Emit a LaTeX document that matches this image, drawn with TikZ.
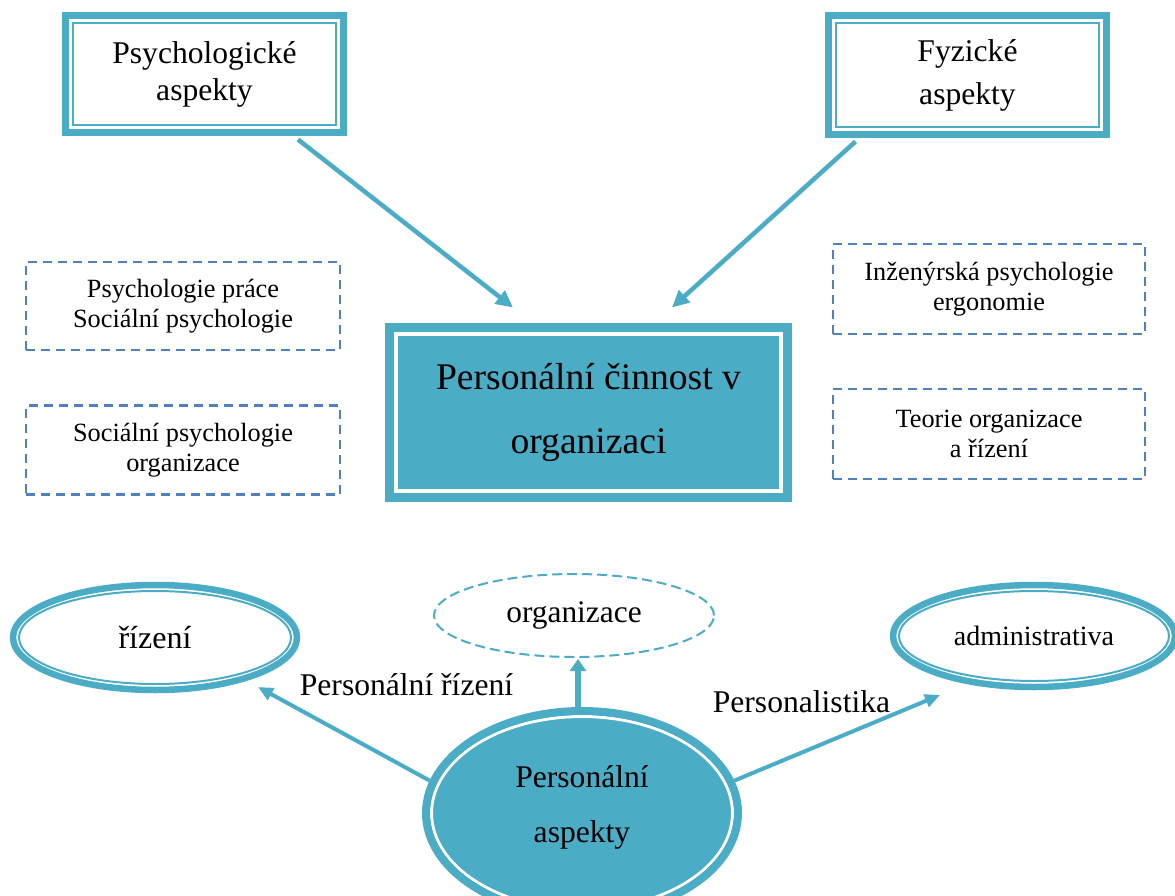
\documentclass[tikz,border=0pt]{standalone}
\usepackage{fontspec}
\setmainfont{Liberation Serif}
\usetikzlibrary{shapes.geometric,arrows.meta,calc}
\definecolor{aqua}{HTML}{4BACC6}
\definecolor{steel}{HTML}{4F81BD}
\begin{document}
\begin{tikzpicture}[x=1pt,y=-1pt,
  % white box with a thick outer frame and a thin inner line
  framebox/.style={rectangle, draw=aqua, line width=7pt, fill=white, inner sep=0pt, align=center,
    path picture={\draw[aqua, line width=2pt]
      ([xshift=7.5pt,yshift=-7.5pt]path picture bounding box.north west) rectangle
      ([xshift=-7.5pt,yshift=7.5pt]path picture bounding box.south east);}},
  % filled box with an inner white line
  corebox/.style={rectangle, draw=aqua, line width=9pt, fill=aqua, inner sep=0pt, align=center,
    path picture={\draw[white, line width=4pt]
      ([xshift=6.5pt,yshift=-6.5pt]path picture bounding box.north west) rectangle
      ([xshift=-6.5pt,yshift=6.5pt]path picture bounding box.south east);}},
  % white ellipse with a thick outer ring and a thin inner ring
  ringellipse/.style={ellipse, draw=aqua, line width=6.5pt, fill=white, inner sep=0pt, align=center,
    path picture={\draw[aqua, line width=2pt]
      let \p1=(path picture bounding box.north east), \p2=(path picture bounding box.center) in
      (\p2) ellipse [x radius={\x1-\x2-6pt}, y radius={\y1-\y2-6pt}];}},
  % filled ellipse with an inner white ring
  coreellipse/.style={ellipse, draw=aqua, line width=8pt, fill=aqua, inner sep=0pt, align=center,
    path picture={\draw[white, line width=3pt]
      let \p1=(path picture bounding box.north east), \p2=(path picture bounding box.center) in
      (\p2) ellipse [x radius={\x1-\x2-5.5pt}, y radius={\y1-\y2-5.5pt}];}},
  notebox/.style={rectangle, draw=steel, line width=2.5pt, dash pattern=on 9pt off 6pt,
    inner sep=0pt, align=center, minimum width=314pt, minimum height=88pt,
    font=\fontsize{26.3}{30}\selectfont},
  dashellipse/.style={ellipse, draw=aqua, line width=2pt, dash pattern=on 10pt off 5pt,
    inner sep=0pt, align=center},
  flow/.style={aqua, line width=4.5pt, -{Triangle[length=17pt,width=16pt]}},
  flowthin/.style={aqua, line width=4pt, -{Triangle[length=15pt,width=13pt]}},
  flowup/.style={aqua, line width=5.5pt, -{Triangle[length=12pt,width=16pt]}}
]
\path[use as bounding box, clip] (0,0) rectangle (1175,896);

% upper boxes
\node[framebox, minimum width=278pt, minimum height=117pt,
      font=\fontsize{31.6}{37}\selectfont] (psych) at (204.5,74) {Psychologické\\aspekty};
\node[framebox, minimum width=278pt, minimum height=119pt,
      font=\fontsize{31.6}{43}\selectfont] (fyz) at (967.5,75) {Fyzické\\aspekty};

% central box
\node[corebox, minimum width=398pt, minimum height=170pt,
      font=\fontsize{37.6}{64}\selectfont] (core) at (588.5,412.5) {Personální činnost v\\organizaci};

% disciplines
\node[notebox] (n1) at (183,306) {Psychologie práce\\Sociální psychologie};
\node[notebox, minimum height=89pt] (n2) at (183,450) {Sociální psychologie\\organizace};
\node[notebox, minimum width=312pt, minimum height=90pt] (n3) at (989,289) {Inženýrská psychologie\\ergonomie};
\node[notebox, minimum width=312pt, minimum height=90pt] (n4) at (989,434) {Teorie organizace\\a řízení};

% lower ellipses
\node[ringellipse, minimum width=284pt, minimum height=105pt,
      font=\fontsize{32}{38}\selectfont] (riz) at (155,637.5) {řízení};
\node[ringellipse, minimum width=282pt, minimum height=102pt,
      font=\fontsize{28}{34}\selectfont] (adm) at (1034,636) {administrativa};
\node[dashellipse, minimum width=280pt, minimum height=83pt,
      font=\fontsize{31.4}{37}\selectfont] (org) at (574,615.5) {organizace};
\node[coreellipse, minimum width=312pt, minimum height=204pt, text depth=17pt,
      font=\fontsize{31.6}{55}\selectfont] (pa) at (582,813) {Personální\\aspekty};

% connectors
\draw[flow] ($(psych.south)+(93.5,3.5)$) -- ($(core.north)+(-75.5,-15.5)$);
\draw[flow] ($(fyz.south)+(-112,3.5)$) -- ($(core.north)+(83.5,-15.5)$);
\draw[flowthin] (pa.168) -- ($(riz.center)+(103,49.5)$);
\draw[flowthin] (pa.12) -- ($(adm.center)+(-94,59)$);
\draw[flowup] ($(pa.north)+(-4,0)$) -- ($(org.south)+(4,1)$);

% connector labels
\node[font=\fontsize{31.6}{37}\selectfont, anchor=base] (lblA) at (406.5,695) {Personální řízení};
\node[font=\fontsize{31.6}{37}\selectfont, anchor=base] (lblB) at (801.5,712) {Personalistika};
\end{tikzpicture}
\end{document}
